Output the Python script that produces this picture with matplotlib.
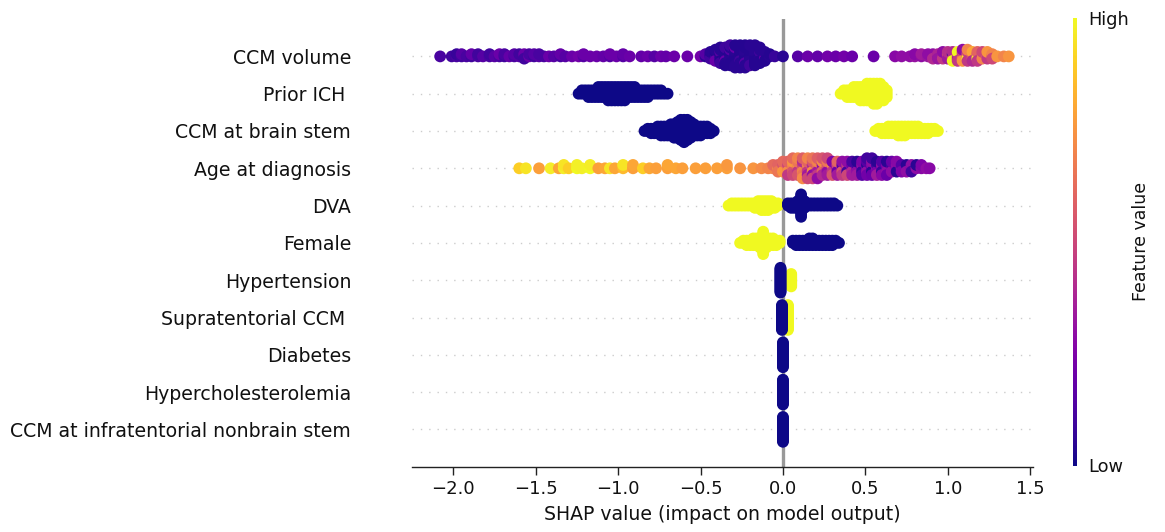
import numpy as np
import matplotlib
matplotlib.use("Agg")
import matplotlib.pyplot as plt
from matplotlib.cm import ScalarMappable
from matplotlib.colors import Normalize

# ---------------- data ----------------
features = ["CCM volume", "Prior ICH ", "CCM at brain stem", "Age at diagnosis",
            "DVA", "Female", "Hypertension", "Supratentorial CCM ", "Diabetes",
            "Hypercholesterolemia", "CCM at infratentorial nonbrain stem"]

x_ticks = [-2.0, -1.5, -1.0, -0.5, 0.0, 0.5, 1.0, 1.5]
x_label = "SHAP value (impact on model output)"
cbar_ticklabels = ["Low", "High"]
cbar_label = "Feature value"

# continuous feature: CCM volume (shap value, feature values of points sharing it)
ccm_volume_x = [-2.08, -2.01, -1.98, -1.95, -1.92, -1.89, -1.85, -1.82, -1.78, -1.75,
                -1.72, -1.69, -1.66, -1.63, -1.60, -1.57, -1.54, -1.51, -1.48, -1.45,
                -1.42, -1.39, -1.35, -1.32, -1.28, -1.24, -1.21, -1.17, -1.13, -1.09,
                -1.05, -1.01, -0.97, -0.93, -0.86, -0.82, -0.78, -0.74, -0.71, -0.66,
                -0.58, -0.50, -0.47, -0.44, -0.41, -0.38, -0.35, -0.32, -0.29, -0.26,
                -0.23, -0.20, -0.17, -0.14, -0.11, -0.08, -0.05, 0.00, 0.09, 0.15,
                0.21, 0.27, 0.32, 0.37, 0.42, 0.55, 0.68, 0.72, 0.77, 0.80,
                0.84, 0.88, 0.91, 0.94, 0.97, 1.00, 1.03, 1.06, 1.09, 1.12,
                1.15, 1.18, 1.21, 1.24, 1.27, 1.30, 1.34, 1.37]
ccm_volume_fv = [[0.12], [0.1], [0.12, 0.08], [0.1, 0.15], [0.12], [0.1, 0.18], [0.12, 0.1],
                 [0.15], [0.12, 0.1], [0.15],
                 [0.12, 0.2], [0.1, 0.12], [0.18], [0.12, 0.15], [0.15, 0.1], [0.12, 0.2, 0.1],
                 [0.2, 0.12], [0.1, 0.15], [0.15, 0.12], [0.12],
                 [0.2], [0.15], [0.12, 0.18], [0.15], [0.2], [0.22], [0.15, 0.2], [0.2], [0.2], [0.18],
                 [0.15, 0.2], [0.2], [0.15, 0.18], [0.2], [0.18], [0.2], [0.15], [0.2], [0.18], [0.2],
                 [0.2], [0.22], [0.05, 0.15],
                 [0.05, 0.04, 0.1, 0.05],
                 [0.04, 0.05, 0.1, 0.04, 0.2, 0.05],
                 [0.05, 0.04, 0.05, 0.15, 0.04, 0.05, 0.1, 0.05],
                 [0.04, 0.05, 0.04, 0.05, 0.2, 0.04, 0.05, 0.1, 0.04],
                 [0.05, 0.04, 0.05, 0.04, 0.05, 0.15, 0.04, 0.05, 0.04, 0.1],
                 [0.04, 0.05, 0.04, 0.05, 0.04, 0.05, 0.04, 0.2, 0.05, 0.04, 0.05],
                 [0.05, 0.04, 0.05, 0.04, 0.1, 0.04, 0.05, 0.04, 0.05, 0.04, 0.05],
                 [0.04, 0.05, 0.04, 0.05, 0.04, 0.05, 0.15, 0.04, 0.05, 0.04, 0.05],
                 [0.05, 0.04, 0.05, 0.04, 0.05, 0.04, 0.05, 0.04, 0.1, 0.05],
                 [0.04, 0.05, 0.04, 0.05, 0.04, 0.05, 0.04, 0.05, 0.04, 0.05],
                 [0.05, 0.04, 0.05, 0.1, 0.04, 0.05, 0.04, 0.05],
                 [0.04, 0.05, 0.2, 0.05, 0.04],
                 [0.05, 0.04],
                 [0.08], [0.05], [0.15], [0.2],
                 [0.18], [0.22], [0.2], [0.22], [0.2], [0.2], [0.28], [0.3], [0.3], [0.32, 0.28],
                 [0.3, 0.35], [0.33, 0.3], [0.35, 0.3, 0.4], [0.3, 0.38, 0.33], [0.4, 0.35, 0.45, 0.3],
                 [0.38, 0.5, 0.35, 0.42], [0.45, 0.05, 0.55, 0.4, 1.0], [0.5, 0.6, 0.35, 1.0, 0.45],
                 [0.55, 0.4, 0.65, 0.5, 0.75, 0.3], [0.6, 0.75, 1.0, 0.5, 0.45, 0.7],
                 [0.5, 0.7, 0.55, 0.8, 0.4], [0.75, 0.5, 1.0, 0.6, 0.45], [0.45, 0.55, 0.7, 0.5],
                 [0.6, 0.5, 0.45, 0.75], [0.55, 0.7, 0.5], [0.75], [0.7], [0.75]]

# continuous feature: Age at diagnosis
age_x = [-1.60, -1.56, -1.48, -1.41, -1.36, -1.33, -1.30, -1.25, -1.22, -1.17,
         -1.12, -1.08, -1.05, -1.02, -0.97, -0.91, -0.85, -0.81, -0.77, -0.70,
         -0.65, -0.61, -0.53, -0.47, -0.40, -0.34, -0.26, -0.18, -0.13, -0.09,
         -0.06, -0.03, 0.00, 0.03, 0.06, 0.09, 0.12, 0.15, 0.18, 0.21,
         0.24, 0.27, 0.30, 0.33, 0.36, 0.39, 0.42, 0.45, 0.48, 0.51,
         0.54, 0.57, 0.60, 0.63, 0.66, 0.69, 0.72, 0.75, 0.78, 0.81,
         0.84, 0.87, 0.89]
age_fv = [[0.9], [0.95], [0.78], [0.97], [0.8], [0.97, 0.95], [0.9], [1.0, 0.98], [0.98], [1.0, 0.97],
          [0.78], [0.8], [0.95], [0.8], [0.85, 0.95], [0.78, 0.8], [0.9], [0.8], [0.78], [0.78, 0.8],
          [0.8], [0.78], [0.78], [0.78], [0.78], [0.78, 0.76], [0.75], [0.75], [0.72], [0.7],
          [0.7, 0.62], [0.72, 0.6, 0.66], [0.7, 0.55, 0.75, 0.62], [0.68, 0.5, 0.72, 0.6, 0.45],
          [0.65, 0.7, 0.55, 0.75, 0.5, 0.62], [0.6, 0.72, 0.45, 0.66, 0.55, 0.7],
          [0.62, 0.5, 0.7, 0.4, 0.66, 0.58, 0.72], [0.55, 0.68, 0.45, 0.6, 0.35, 0.7, 0.5],
          [0.6, 0.4, 0.72, 0.55, 0.3, 0.65, 0.5], [0.5, 0.62, 0.35, 0.7, 0.45, 0.58, 0.3],
          [0.45, 0.3, 0.6, 0.72, 0.4, 0.55], [0.4, 0.55, 0.3, 0.66, 0.35, 0.5],
          [0.35, 0.7, 0.45, 0.25, 0.55], [0.3, 0.5, 0.2, 0.6, 0.35], [0.4, 0.15, 0.55, 0.3, 0.45],
          [0.35, 0.45, 0.1, 0.3, 0.5], [0.3, 0.2, 0.4, 0.12, 0.35], [0.25, 0.1, 0.3, 0.05, 0.35],
          [0.2, 0.3, 0.08, 0.25, 0.15], [0.25, 0.05, 0.3, 0.15, 0.22, 0.1],
          [0.15, 0.28, 0.05, 0.3, 0.2, 0.1], [0.3, 0.1, 0.25, 0.05, 0.35], [0.22, 0.3, 0.08, 0.15, 0.28],
          [0.15, 0.25, 0.3, 0.05, 0.2], [0.28, 0.1, 0.3, 0.2], [0.25, 0.3, 0.05, 0.28],
          [0.3, 0.15, 0.25], [0.28, 0.05, 0.3], [0.25, 0.3, 0.1], [0.3, 0.05],
          [0.28, 0.25], [0.3], [0.28]]

# binary features: shap values and number of points at each value
prior_ich_low_x = [-1.24, -1.22, -1.20, -1.18, -1.16, -1.14, -1.12, -1.10, -1.08, -1.06,
                   -1.04, -1.02, -1.00, -0.98, -0.96, -0.94, -0.92, -0.90, -0.88, -0.86,
                   -0.84, -0.82, -0.80, -0.78, -0.76, -0.74, -0.72, -0.70]
prior_ich_low_n = [1, 2, 2, 3, 3, 3, 4, 4, 4, 5, 5, 5, 5, 5, 5, 4, 4, 4, 3, 3, 3, 3, 2, 2, 2, 2, 1, 1]
prior_ich_high_x = [0.35, 0.37, 0.39, 0.41, 0.43, 0.45, 0.47, 0.49, 0.51, 0.53, 0.55, 0.57, 0.59, 0.61, 0.63]
prior_ich_high_n = [1, 2, 3, 3, 4, 4, 5, 5, 6, 6, 7, 7, 6, 5, 3]

brain_stem_low_x = [-0.84, -0.82, -0.80, -0.78, -0.76, -0.74, -0.72, -0.70, -0.68, -0.66, -0.64,
                    -0.62, -0.60, -0.58, -0.56, -0.54, -0.52, -0.50, -0.48, -0.46, -0.44, -0.42]
brain_stem_low_n = [1, 2, 3, 3, 4, 5, 5, 5, 6, 7, 8, 10, 11, 10, 8, 6, 5, 5, 4, 4, 3, 1]
brain_stem_high_x = [0.56, 0.58, 0.60, 0.62, 0.64, 0.66, 0.68, 0.70, 0.72, 0.74,
                     0.76, 0.78, 0.80, 0.82, 0.84, 0.86, 0.88, 0.90, 0.92, 0.94]
brain_stem_high_n = [1, 2, 3, 3, 4, 4, 4, 5, 5, 5, 4, 4, 4, 4, 3, 3, 3, 2, 2, 1]

dva_high_x = [-0.33, -0.31, -0.29, -0.27, -0.25, -0.23, -0.21, -0.19, -0.17, -0.15,
              -0.13, -0.11, -0.09, -0.07, -0.05, -0.03]
dva_high_n = [1, 2, 2, 2, 2, 2, 2, 2, 3, 4, 5, 5, 5, 4, 3, 2]
dva_low_x = [0.03, 0.05, 0.07, 0.09, 0.11, 0.13, 0.15, 0.17, 0.19, 0.21, 0.23, 0.25, 0.27, 0.29, 0.31, 0.33]
dva_low_n = [2, 3, 3, 4, 11, 4, 2, 2, 2, 2, 2, 2, 2, 2, 2, 1]

female_high_x = [-0.26, -0.24, -0.22, -0.20, -0.18, -0.16, -0.14, -0.12, -0.10, -0.08, -0.06, -0.04, -0.02]
female_high_n = [1, 2, 3, 3, 4, 4, 5, 11, 5, 4, 4, 3, 2]
female_low_x = [0.06, 0.08, 0.10, 0.12, 0.14, 0.16, 0.18, 0.20, 0.22, 0.24, 0.26, 0.28, 0.30, 0.32, 0.34]
female_low_n = [2, 3, 3, 3, 3, 4, 4, 3, 3, 3, 3, 3, 3, 2, 1]

hypertension_high_x = [0.05]
hypertension_high_n = [13]
hypertension_low_x = [-0.015]
hypertension_low_n = [25]

supratentorial_high_x = [0.03]
supratentorial_high_n = [25]
supratentorial_low_x = [-0.006]
supratentorial_low_n = [25]

diabetes_low_x = [0.0]
diabetes_low_n = [25]
hyperchol_low_x = [0.0]
hyperchol_low_n = [25]
infratentorial_low_x = [0.0]
infratentorial_low_n = [25]


# ---------------- helpers ----------------
def from_groups(xs, fvs):
    px, pc = [], []
    for x, group in zip(xs, fvs):
        for f in group:
            px.append(x)
            pc.append(f)
    return np.array(px), np.array(pc)


def from_binary(high_x, high_n, low_x, low_n):
    px = np.concatenate([np.repeat(high_x, high_n), np.repeat(low_x, low_n)])
    pc = np.concatenate([np.ones(int(np.sum(high_n))), np.zeros(int(np.sum(low_n)))])
    return px, pc


def swarm_offsets(xs, row_height=0.4):
    """shap-style beeswarm: stack points sharing a value alternately up/down."""
    key = np.round(xs, 4)
    ys = np.zeros(len(xs))
    layer = {}
    for i, k in enumerate(key):
        l = layer.get(k, 0)
        ys[i] = np.ceil(l / 2) * ((l % 2) * 2 - 1)
        layer[k] = l + 1
    ys *= 0.9 * (row_height / np.max(ys + 1))
    return ys


rows = [
    from_groups(ccm_volume_x, ccm_volume_fv),
    from_binary(prior_ich_high_x, prior_ich_high_n, prior_ich_low_x, prior_ich_low_n),
    from_binary(brain_stem_high_x, brain_stem_high_n, brain_stem_low_x, brain_stem_low_n),
    from_groups(age_x, age_fv),
    from_binary(dva_high_x, dva_high_n, dva_low_x, dva_low_n),
    from_binary(female_high_x, female_high_n, female_low_x, female_low_n),
    from_binary(hypertension_high_x, hypertension_high_n, hypertension_low_x, hypertension_low_n),
    from_binary(supratentorial_high_x, supratentorial_high_n, supratentorial_low_x, supratentorial_low_n),
    from_binary([], [], diabetes_low_x, diabetes_low_n),
    from_binary([], [], hyperchol_low_x, hyperchol_low_n),
    from_binary([], [], infratentorial_low_x, infratentorial_low_n),
]

# ---------------- figure ----------------
W, H = 1165, 532
fig = plt.figure(figsize=(W / 100, H / 100), dpi=100)
ax = fig.add_axes([412.3 / W, 1 - 466.7 / H, 621.0 / W, 447.6 / H])

n_feat = len(features)
cmap = plt.get_cmap("plasma")
for i, (px, pc) in enumerate(rows):
    pos = n_feat - 1 - i
    ax.axhline(y=pos, color="#cccccc", lw=1.0, dashes=(1, 5), zorder=-1)
    ys = swarm_offsets(px)
    ax.scatter(px, pos + ys, c=pc, cmap=cmap, vmin=0, vmax=1, s=72,
               linewidths=0, zorder=3)

ax.axvline(x=0, color="#999999", lw=2.4, zorder=-1)

ax.set_xlim(-2.249, 1.519)
ax.set_ylim(-1, n_feat)
ax.set_yticks(range(n_feat))
ax.set_yticklabels(features[::-1], fontsize=13.55)
ax.set_xticks(x_ticks)
ax.set_xticklabels([f"{t:.1f}".replace("-", "\u2212") for t in x_ticks], fontsize=13.0)
ax.set_xlabel(x_label, fontsize=13.6, labelpad=5, color="#111111")

for s in ["top", "right", "left"]:
    ax.spines[s].set_visible(False)
ax.spines["bottom"].set_color("#222222")
ax.spines["bottom"].set_linewidth(1.0)
ax.tick_params(axis="y", length=0, pad=44, labelcolor="#111111")
ax.tick_params(axis="x", length=6, width=1.0, color="#222222", labelcolor="#111111")

# colorbar
cax = fig.add_axes([1072.5 / W, 1 - 465.5 / H, 4.5 / W, 447.5 / H])
sm = ScalarMappable(norm=Normalize(0, 1), cmap=cmap)
cb = fig.colorbar(sm, cax=cax, ticks=[0, 1])
cb.set_ticklabels(cbar_ticklabels)
cb.ax.tick_params(labelsize=12.75, length=0, pad=8, labelcolor="#111111")
cb.set_label(cbar_label, size=12.5, labelpad=2, color="#111111")
cb.outline.set_visible(False)

fig.savefig("out.png", dpi=100)
